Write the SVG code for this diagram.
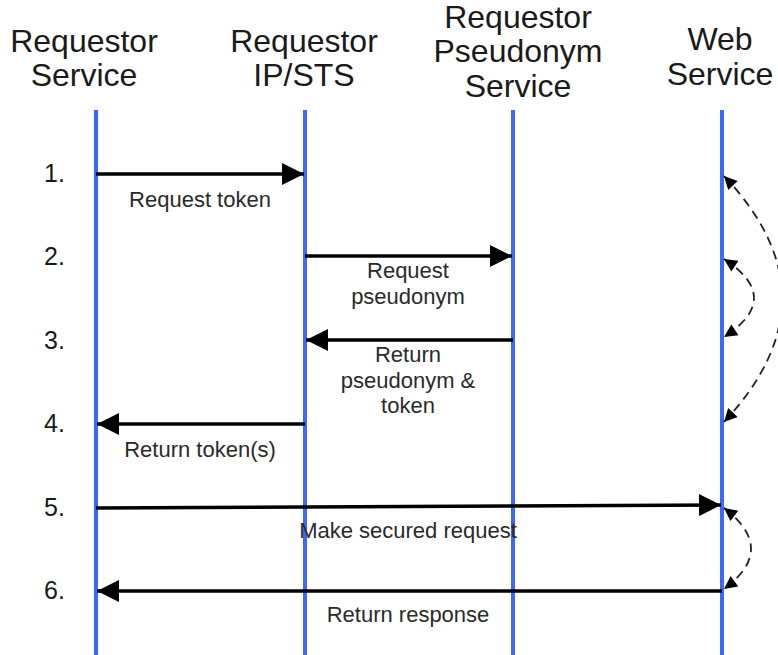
<svg xmlns="http://www.w3.org/2000/svg" width="778" height="655" viewBox="0 0 778 655">
<style>
.hdr{font-family:"Liberation Sans",Arial,sans-serif;font-size:32px;fill:#1a1a1a;text-anchor:middle}
.num{font-family:"Liberation Sans",Arial,sans-serif;font-size:25px;fill:#1a1a1a}
.lbl{font-family:"Liberation Sans",Arial,sans-serif;font-size:22px;fill:#2a2a2a;text-anchor:middle}
.life{stroke:#3b68ff;stroke-width:4;fill:none}
.msg{stroke:#000;stroke-width:3.5;fill:none}
.dash{stroke:#222;stroke-width:1.8;fill:none;stroke-dasharray:9 6}
</style>
<defs>
<marker id="ah" viewBox="0 0 10 10" refX="10" refY="5" markerWidth="28" markerHeight="22" markerUnits="userSpaceOnUse" orient="auto">
<path d="M0,0 L10,5 L0,10 z" fill="#000"/>
</marker>
<marker id="dh" viewBox="0 0 10 10" refX="10" refY="5" markerWidth="17" markerHeight="13" markerUnits="userSpaceOnUse" orient="auto-start-reverse">
<path d="M0,0 L10,5 L0,10 z" fill="#000"/>
</marker>
</defs>
<rect width="778" height="655" fill="#fff"/>
<g id="requestor-service">
<line class="life" x1="96" y1="110" x2="96" y2="655"/>
<text class="hdr" x="84" y="52">Requestor</text>
<text class="hdr" x="84" y="86">Service</text>
</g>
<g id="requestor-ipsts">
<line class="life" x1="305" y1="110" x2="305" y2="655"/>
<text class="hdr" x="304" y="52">Requestor</text>
<text class="hdr" x="304" y="86">IP/STS</text>
</g>
<g id="requestor-pseudonym-service">
<line class="life" x1="513" y1="110" x2="513" y2="655"/>
<text class="hdr" x="518" y="28">Requestor</text>
<text class="hdr" x="518" y="62">Pseudonym</text>
<text class="hdr" x="518" y="97">Service</text>
</g>
<g id="web-service">
<line class="life" x1="722" y1="110" x2="722" y2="655"/>
<text class="hdr" x="720" y="50">Web</text>
<text class="hdr" x="720" y="85">Service</text>
</g>
<g id="steps">
<text class="num" x="44" y="182">1.</text>
<text class="num" x="44" y="265">2.</text>
<text class="num" x="44" y="349">3.</text>
<text class="num" x="44" y="432">4.</text>
<text class="num" x="44" y="516">5.</text>
<text class="num" x="44" y="599">6.</text>
</g>
<g id="connectors">
<line class="msg" x1="96" y1="174" x2="304" y2="174" marker-end="url(#ah)"/>
<text class="lbl" x="200" y="207">Request token</text>
<line class="msg" x1="305" y1="256" x2="512" y2="256" marker-end="url(#ah)"/>
<text class="lbl" x="408" y="278">Request</text>
<text class="lbl" x="408" y="304">pseudonym</text>
<line class="msg" x1="513" y1="340" x2="306" y2="340" marker-end="url(#ah)"/>
<text class="lbl" x="408" y="362">Return</text>
<text class="lbl" x="408" y="388">pseudonym &amp;</text>
<text class="lbl" x="408" y="413">token</text>
<line class="msg" x1="305" y1="424" x2="97" y2="424" marker-end="url(#ah)"/>
<text class="lbl" x="200" y="457">Return token(s)</text>
<line class="msg" x1="96" y1="508" x2="721" y2="505" marker-end="url(#ah)"/>
<text class="lbl" x="408" y="538">Make secured request</text>
<line class="msg" x1="722" y1="591" x2="97" y2="591" marker-end="url(#ah)"/>
<text class="lbl" x="408" y="622">Return response</text>
<path class="dash" d="M724,176 Q840,298 724,422" marker-start="url(#dh)" marker-end="url(#dh)"/>
<path class="dash" d="M724,259 Q784,298 724,337" marker-start="url(#dh)" marker-end="url(#dh)"/>
<path class="dash" d="M724,508 Q778,549 724,589" marker-start="url(#dh)" marker-end="url(#dh)"/>
</g>
</svg>
